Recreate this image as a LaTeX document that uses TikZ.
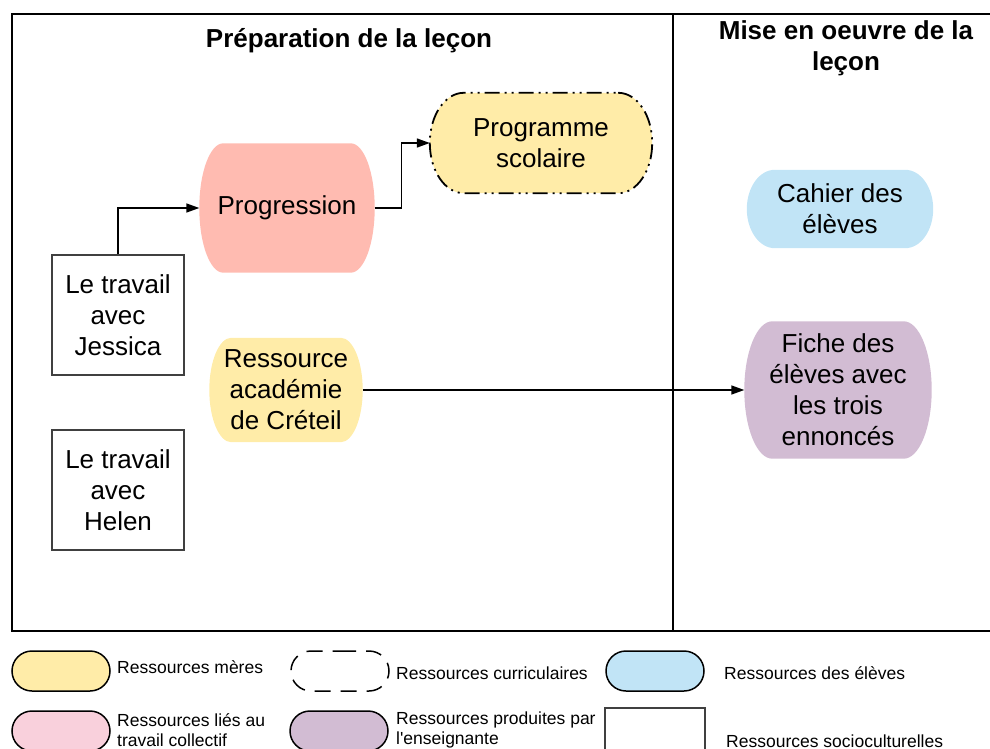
\documentclass[tikz,border=0pt]{standalone}
\usepackage{fontspec}
\setmainfont{Liberation Sans}
\usetikzlibrary{arrows.meta,shapes.misc,calc,backgrounds}
\definecolor{MereColor}{HTML}{FFECA8}
\definecolor{CollColor}{HTML}{FFBBB1}
\definecolor{LegCollColor}{HTML}{F9D0DC}
\definecolor{EleveColor}{HTML}{C1E4F6}
\definecolor{ProfColor}{HTML}{D2BCD3}
\definecolor{SocioColor}{HTML}{404040}

\tikzset{
  res/.style={rectangle, align=center, inner sep=0pt, font=\fontsize{26}{31}\selectfont},
  socio/.style={draw=SocioColor, line width=1.5pt, align=center, inner sep=0pt,
    minimum width=132pt, minimum height=120pt, font=\fontsize{26}{31}\selectfont},
  link/.style={line width=1.5pt, -{Triangle[length=13pt,width=9pt]}},
  leg/.style={rounded rectangle, draw, line width=1.5pt, minimum width=98pt, minimum height=40pt, inner sep=0pt},
  legtext/.style={anchor=west, align=left, inner sep=0pt, font=\fontsize{17.5}{20}\selectfont},
  title/.style={align=center, font=\bfseries\fontsize{26}{31}\selectfont}
}

\newcommand{\barrel}[3]{%
  \begin{pgfonlayer}{background}
  \path[#3] ([xshift=-#2pt]#1.north east)
    .. controls ([xshift=-0.448*#2pt]#1.north east) and ($(#1.east)!0.552!(#1.north east)$) .. (#1.east)
    .. controls ($(#1.east)!0.552!(#1.south east)$) and ([xshift=-0.448*#2pt]#1.south east) .. ([xshift=-#2pt]#1.south east)
    -- ([xshift=#2pt]#1.south west)
    .. controls ([xshift=0.448*#2pt]#1.south west) and ($(#1.west)!0.552!(#1.south west)$) .. (#1.west)
    .. controls ($(#1.west)!0.552!(#1.north west)$) and ([xshift=0.448*#2pt]#1.north west) .. ([xshift=#2pt]#1.north west)
    -- cycle;
  \end{pgfonlayer}}

\begin{document}
\begin{tikzpicture}[x=1pt,y=-1pt]
  \useasboundingbox (0,0) rectangle (990,749);
  \draw[line width=2pt] (990,14) -- (12,14) -- (12,631) -- (990,631);
  \draw[line width=2pt] (673,14) -- (673,631);
  \node[title] (prep) at (349,41) {Préparation de la leçon};
  \node[title] (mise) at (846,48) {Mise en oeuvre de la\\leçon};

  \node[res, minimum width=175pt, minimum height=129pt] (progression) at (287,208) {Progression};
  \barrel{progression}{24}{fill=CollColor}
  \node[res, minimum width=222pt, minimum height=100pt] (programme) at (541,143) {Programme\\scolaire};
  \barrel{programme}{34}{fill=MereColor, draw, line width=1.8pt, dash pattern=on 15pt off 5pt on 2pt off 5pt on 2pt off 5pt}
  \node[res, minimum width=153pt, minimum height=104pt] (ressource) at (286,390) {Ressource\\académie\\de Créteil};
  \barrel{ressource}{22}{fill=MereColor}
  \node[socio] (jessica) at (118,315) {Le travail\\avec\\Jessica};
  \node[socio] (helen) at (118,490) {Le travail\\avec\\Helen};
  \node[res, minimum width=186pt, minimum height=78pt] (cahier) at (840,209) {Cahier des\\élèves};
  \barrel{cahier}{28}{fill=EleveColor}
  \node[res, minimum width=187pt, minimum height=137pt] (fiche) at (838,390) {Fiche des\\élèves avec\\les trois\\ennoncés};
  \barrel{fiche}{28}{fill=ProfColor}

  \draw[link] (jessica.north) |- (progression.west);
  \draw[link] (progression.east) -- ++(27,0) |- (programme.west);
  \draw[link] (ressource.east) -- (fiche.west);

  \node[leg, fill=MereColor] (legmere) at (61,671) {};
  \node[legtext] (txtmere) at (117,667) {Ressources mères};
  \node[leg, dash pattern=on 16pt off 10pt] (legcurri) at (340,671) {};
  \node[legtext] (txtcurri) at (396,673) {Ressources curriculaires};
  \node[leg, fill=EleveColor] (legeleve) at (655,671) {};
  \node[legtext] (txteleve) at (724,673) {Ressources des élèves};
  \node[leg, fill=LegCollColor] (legcoll) at (61,731) {};
  \node[legtext] (txtcoll) at (117,730) {Ressources liés au\\travail collectif};
  \node[leg, fill=ProfColor] (legprof) at (339,731) {};
  \node[legtext] (txtprof) at (396,730) {Ressources produites par\\l\textquotesingle enseignante};
  \node[draw=SocioColor, line width=1.5pt, minimum width=100pt, minimum height=46pt, inner sep=0pt] (legsocio) at (655,731) {};
  \node[legtext] (txtsocio) at (726,741) {Ressources socioculturelles};
\end{tikzpicture}
\end{document}
